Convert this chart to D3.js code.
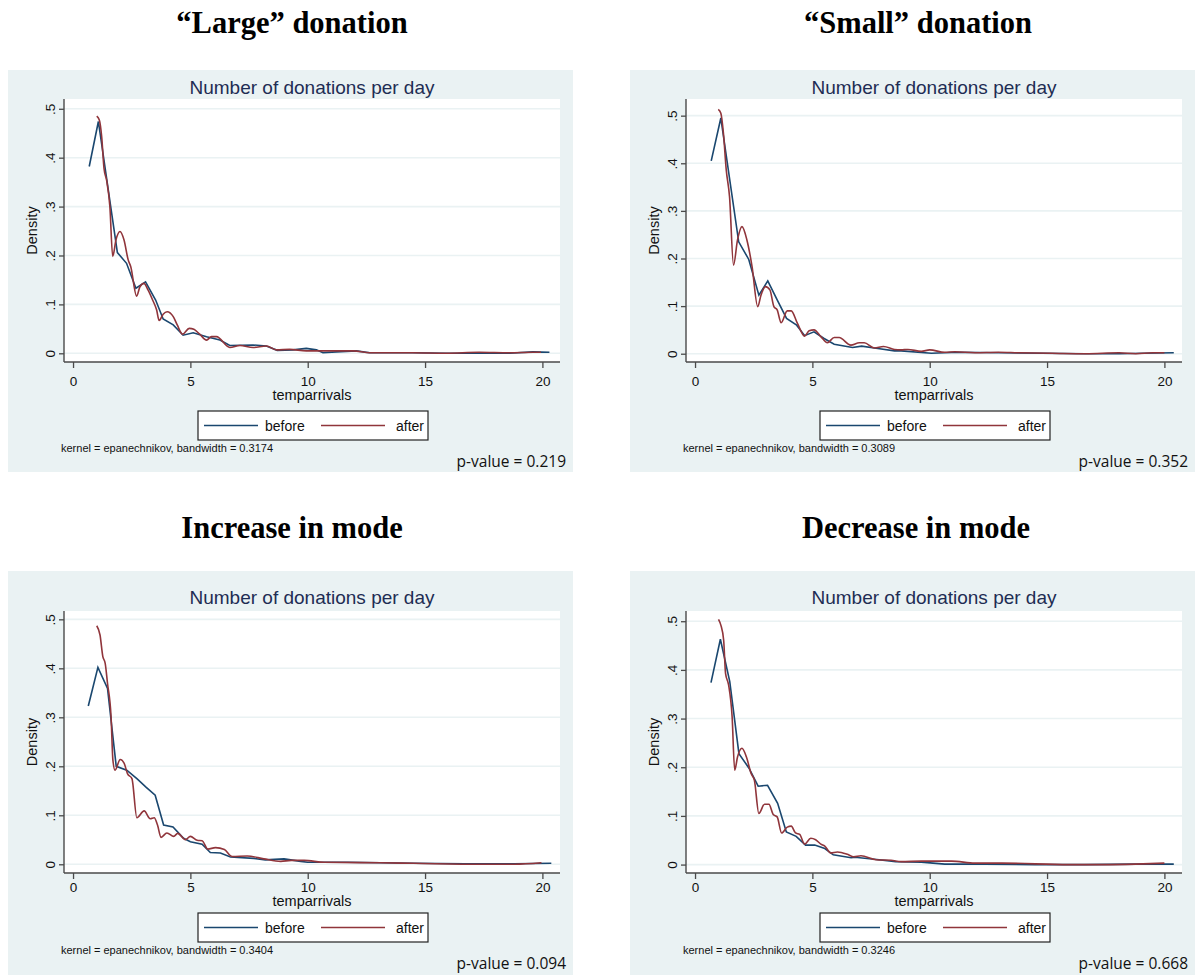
<!DOCTYPE html>
<html>
<head>
<meta charset="utf-8">
<script src="https://cdn.jsdelivr.net/npm/d3@7"></script>
<style>
  body { margin: 0; background: #fff; }
</style>
</head>
<body>
<div id="chart"></div>
<script>
// kernel density estimates: [temparrivals, density]
var largeBefore = [[0.69,.382],[1.08,.474],[1.89,.206],[2.28,.184],[2.68,.133],[3.09,.146],[3.52,.109],[3.84,.070],[4.27,.058],[4.69,.037],[5.12,.042],[5.69,.034],[6.26,.027],[6.68,.016],[7.67,.017],[8.24,.015],[8.70,.006],[9.38,.007],[9.94,.010],[10.37,.007],[10.65,.001],[11.22,.003],[12.07,.005],[12.64,.001],[14.48,.001],[15.9,0],[17.3,0],[18.6,0],[19.59,.003],[20.3,.002]];
var largeAfter = [[1.01,.485],[1.12,.477],[1.22,.443],[1.32,.378],[1.43,.354],[1.57,.300],[1.69,.198],[1.83,.232],[2.00,.249],[2.17,.232],[2.35,.191],[2.46,.177],[2.71,.117],[2.85,.136],[3.02,.143],[3.20,.129],[3.39,.109],[3.56,.089],[3.67,.067],[3.84,.080],[4.01,.085],[4.27,.075],[4.44,.058],[4.67,.039],[4.95,.051],[5.15,.049],[5.40,.039],[5.69,.027],[5.90,.034],[6.11,.034],[6.68,.012],[7.11,.016],[7.67,.012],[8.24,.015],[8.67,.007],[9.23,.008],[9.94,.005],[10.65,.005],[11.93,.005],[12.64,.001],[14.48,.001],[15.9,0],[17.3,.002],[18.6,.001],[19.59,.002],[19.94,.002]];

var smallBefore = [[0.69,.405],[1.10,.495],[1.86,.235],[2.29,.198],[2.72,.123],[3.10,.153],[3.50,.113],[3.90,.074],[4.33,.060],[4.67,.038],[5.07,.046],[5.50,.032],[5.93,.020],[6.71,.013],[7.10,.016],[7.79,.011],[8.50,.006],[8.78,.006],[10.07,.001],[11.21,.003],[13.07,.002],[14.78,.001],[16.64,0],[18.07,0],[19.07,.001],[20.4,.002]];
var smallAfter = [[0.99,.513],[1.10,.505],[1.21,.463],[1.33,.386],[1.47,.330],[1.64,.186],[1.81,.239],[2.00,.267],[2.21,.239],[2.43,.183],[2.67,.099],[2.81,.123],[3.00,.141],[3.19,.134],[3.36,.099],[3.50,.092],[3.67,.065],[3.93,.090],[4.10,.090],[4.36,.064],[4.67,.037],[4.86,.048],[5.07,.050],[5.36,.036],[5.64,.023],[5.93,.034],[6.14,.034],[6.64,.018],[7.00,.023],[7.21,.023],[7.64,.012],[8.03,.015],[8.50,.009],[8.78,.008],[9.07,.009],[9.64,.005],[10.0,.008],[10.64,.003],[11.07,.004],[11.93,.002],[12.93,.003],[13.78,.002],[15.2,.001],[16.64,0],[18.07,.002],[18.78,0],[19.5,.002],[20.0,.002]];

var incBefore = [[0.65,.323],[1.06,.402],[1.47,.359],[1.84,.200],[2.29,.192],[2.72,.175],[3.12,.157],[3.50,.141],[3.86,.080],[4.26,.076],[4.71,.053],[5.0,.046],[5.50,.041],[5.85,.024],[6.28,.023],[6.71,.015],[7.70,.012],[8.20,.009],[8.99,.011],[9.70,.006],[9.99,.004],[11.7,.004],[14.54,.002],[16.7,.001],[18.8,.001],[20.38,.002]];
var incAfter = [[1.01,.487],[1.15,.468],[1.27,.424],[1.37,.410],[1.47,.369],[1.62,.301],[1.70,.212],[1.79,.192],[2.01,.214],[2.18,.206],[2.32,.185],[2.51,.175],[2.72,.095],[3.03,.109],[3.29,.093],[3.46,.095],[3.60,.080],[3.75,.055],[4.0,.064],[4.29,.057],[4.46,.063],[4.79,.050],[5.0,.057],[5.29,.049],[5.50,.048],[5.74,.031],[6.07,.034],[6.45,.030],[6.78,.016],[7.42,.017],[8.13,.011],[8.85,.006],[9.3,.008],[9.85,.008],[10.7,.004],[13.1,.003],[14.5,.002],[17.4,0],[18.8,0],[19.96,.003]];

var decBefore = [[0.68,.374],[1.08,.463],[1.48,.376],[1.87,.228],[2.30,.198],[2.69,.161],[3.09,.163],[3.52,.126],[3.89,.067],[4.31,.058],[4.71,.040],[5.10,.040],[5.53,.033],[5.89,.020],[6.65,.014],[6.82,.015],[7.64,.011],[8.55,.006],[9.64,.005],[10.64,.001],[12.35,.001],[14.5,0],[16.6,0],[18.78,.001],[20.4,.001]];
var decAfter = [[1.0,.504],[1.10,.492],[1.22,.461],[1.30,.393],[1.43,.369],[1.58,.304],[1.69,.194],[1.81,.221],[2.0,.239],[2.19,.221],[2.39,.187],[2.53,.173],[2.72,.105],[2.96,.124],[3.15,.124],[3.33,.103],[3.50,.098],[3.69,.065],[3.93,.077],[4.10,.079],[4.28,.065],[4.46,.062],[4.67,.042],[4.93,.054],[5.14,.051],[5.36,.042],[5.53,.038],[5.78,.024],[6.07,.026],[6.50,.021],[6.76,.016],[7.07,.018],[7.71,.010],[8.35,.009],[8.78,.006],[9.64,.007],[10.93,.007],[11.93,.003],[13.07,.003],[15.93,0],[17.35,0],[18.78,.001],[20.0,.003]];

var headings = ["\u201cLarge\u201d donation", "\u201cSmall\u201d donation", "Increase in mode", "Decrease in mode"];
var bandwidths = ["0.3174", "0.3089", "0.3404", "0.3246"];
var pValues = ["0.219", "0.352", "0.094", "0.668"];
var xTicks = [0, 5, 10, 15, 20];
var yTicks = [0, .1, .2, .3, .4, .5];
var seriesNames = ["before", "after"];

var width = 1195, height = 980;
var blue = "#1a476f", red = "#90353b", bgCol = "#eaf2f3";

var svg = d3.select("#chart").append("svg")
    .attr("width", width)
    .attr("height", height);

// layout of the two rows of graphs
var rowTop = {oy: 70, bgH: 402, headY: 33, titleY: 24, plotTop: 29, plotBottom: 292, tickY: 316, xTitleY: 330, legendY: 341, noteY: 382, pY: 397};
var rowBottom = {oy: 571, bgH: 404, headY: 538, titleY: 33, plotTop: 40, plotBottom: 302, tickY: 321, xTitleY: 335, legendY: 342, noteY: 383, pY: 398};

var panels = [
    {ox: 8, row: rowTop, before: largeBefore, after: largeAfter, yDom: [-0.0178, 0.520], headX: 292},
    {ox: 630, row: rowTop, before: smallBefore, after: smallAfter, yDom: [-0.0174, 0.535], headX: 918},
    {ox: 8, row: rowBottom, before: incBefore, after: incAfter, yDom: [-0.0178, 0.517], headX: 292},
    {ox: 630, row: rowBottom, before: decBefore, after: decAfter, yDom: [-0.0173, 0.521], headX: 916}
];

panels.forEach(function (p, i) {
    var r = p.row;

    svg.append("text")
        .attr("x", p.headX)
        .attr("y", r.headY)
        .attr("text-anchor", "middle")
        .attr("font-family", "Liberation Serif, Times New Roman, serif")
        .attr("font-weight", "bold")
        .attr("font-size", 30.5)
        .text(headings[i]);

    var g = svg.append("g").attr("transform", "translate(" + p.ox + "," + r.oy + ")");

    g.append("rect")
        .attr("width", 565)
        .attr("height", r.bgH)
        .attr("fill", bgCol);

    var plotL = 56, plotR = 552;
    var x = d3.scaleLinear().domain([-0.385, 20.75]).range([plotL, plotR]);
    var y = d3.scaleLinear().domain(p.yDom).range([r.plotBottom, r.plotTop]);

    g.append("rect")
        .attr("x", plotL)
        .attr("y", r.plotTop)
        .attr("width", plotR - plotL)
        .attr("height", r.plotBottom - r.plotTop)
        .attr("fill", "#fff");

    g.append("text")
        .attr("x", (plotL + plotR) / 2)
        .attr("y", r.titleY)
        .attr("text-anchor", "middle")
        .attr("font-family", "Liberation Sans, Arial, sans-serif")
        .attr("font-size", 19)
        .attr("fill", "#1e2d53")
        .text("Number of donations per day");

    // grid lines
    g.selectAll("line.grid")
        .data(yTicks).enter()
        .append("line")
        .attr("class", "grid")
        .attr("x1", plotL).attr("x2", plotR)
        .attr("y1", function (d) { return y(d); })
        .attr("y2", function (d) { return y(d); })
        .attr("stroke", bgCol)
        .attr("stroke-width", 1.6);

    var line = d3.line()
        .x(function (d) { return x(d[0]); })
        .y(function (d) { return y(d[1]); });

    g.append("path")
        .datum(p.before)
        .attr("d", line.curve(d3.curveLinear))
        .attr("fill", "none")
        .attr("stroke", blue)
        .attr("stroke-width", 1.6);

    g.append("path")
        .datum(p.after)
        .attr("d", line.curve(d3.curveMonotoneX))
        .attr("fill", "none")
        .attr("stroke", red)
        .attr("stroke-width", 1.6);

    // axes
    var xAxis = d3.axisBottom(x).tickValues(xTicks).tickSize(6).tickPadding(4);
    var xg = g.append("g")
        .attr("transform", "translate(0," + r.plotBottom + ")")
        .call(xAxis);
    xg.select(".domain").attr("d", "M" + plotL + ",0H" + plotR);

    var yAxis = d3.axisLeft(y).tickValues(yTicks).tickSize(5)
        .tickFormat(function (d) { return d === 0 ? "0" : d3.format(".1f")(d).replace(/^0/, ""); });
    var yg = g.append("g")
        .attr("transform", "translate(" + plotL + ",0)")
        .call(yAxis);
    yg.select(".domain").attr("d", "M0," + r.plotTop + "V" + r.plotBottom);
    yg.selectAll(".tick text")
        .attr("transform", "rotate(-90)")
        .attr("x", 0)
        .attr("y", -9)
        .attr("dy", 0)
        .attr("text-anchor", "middle");

    [xg, yg].forEach(function (ax) {
        ax.select(".domain").attr("stroke", "#4a4a4a").attr("stroke-width", 1.4);
        ax.selectAll(".tick line").attr("stroke", "#4a4a4a").attr("stroke-width", 1.3);
        ax.selectAll(".tick text")
            .attr("font-family", "Liberation Sans, Arial, sans-serif")
            .attr("font-size", 13.5)
            .attr("fill", "#111");
    });
    xg.selectAll(".tick text").attr("y", r.tickY - r.plotBottom).attr("dy", 0);

    g.append("text")
        .attr("transform", "translate(29," + ((r.plotTop + r.plotBottom) / 2) + ") rotate(-90)")
        .attr("text-anchor", "middle")
        .attr("font-family", "Liberation Sans, Arial, sans-serif")
        .attr("font-size", 14.5)
        .attr("fill", "#111")
        .text("Density");

    g.append("text")
        .attr("x", (plotL + plotR) / 2)
        .attr("y", r.xTitleY)
        .attr("text-anchor", "middle")
        .attr("font-family", "Liberation Sans, Arial, sans-serif")
        .attr("font-size", 14.5)
        .attr("fill", "#111")
        .text("temparrivals");

    // legend
    var lg = g.append("g").attr("transform", "translate(190," + r.legendY + ")");
    lg.append("rect")
        .attr("width", 230).attr("height", 29)
        .attr("fill", "#fff")
        .attr("stroke", "#222")
        .attr("stroke-width", 1.2);
    var items = lg.selectAll("g.item")
        .data(seriesNames).enter()
        .append("g")
        .attr("transform", function (d, j) { return "translate(" + (j === 0 ? 6 : 123) + ",0)"; });
    items.append("line")
        .attr("x1", 0).attr("x2", function (d, j) { return j === 0 ? 54 : 64; })
        .attr("y1", 14.5).attr("y2", 14.5)
        .attr("stroke", function (d, j) { return j === 0 ? blue : red; })
        .attr("stroke-width", 1.6);
    items.append("text")
        .attr("x", function (d, j) { return j === 0 ? 61 : 75; })
        .attr("y", 19.5)
        .attr("font-family", "Liberation Sans, Arial, sans-serif")
        .attr("font-size", 14)
        .attr("fill", "#111")
        .text(function (d) { return d; });

    g.append("text")
        .attr("x", 53)
        .attr("y", r.noteY)
        .attr("font-family", "Liberation Sans, Arial, sans-serif")
        .attr("font-size", 11)
        .attr("fill", "#111")
        .text("kernel = epanechnikov, bandwidth = " + bandwidths[i]);

    g.append("text")
        .attr("x", 558)
        .attr("y", r.pY)
        .attr("text-anchor", "end")
        .attr("font-family", "Open Sans, Noto Sans, sans-serif")
        .attr("font-size", 15.5)
        .attr("fill", "#111")
        .text("p-value = " + pValues[i]);
});
</script>
</body>
</html>
